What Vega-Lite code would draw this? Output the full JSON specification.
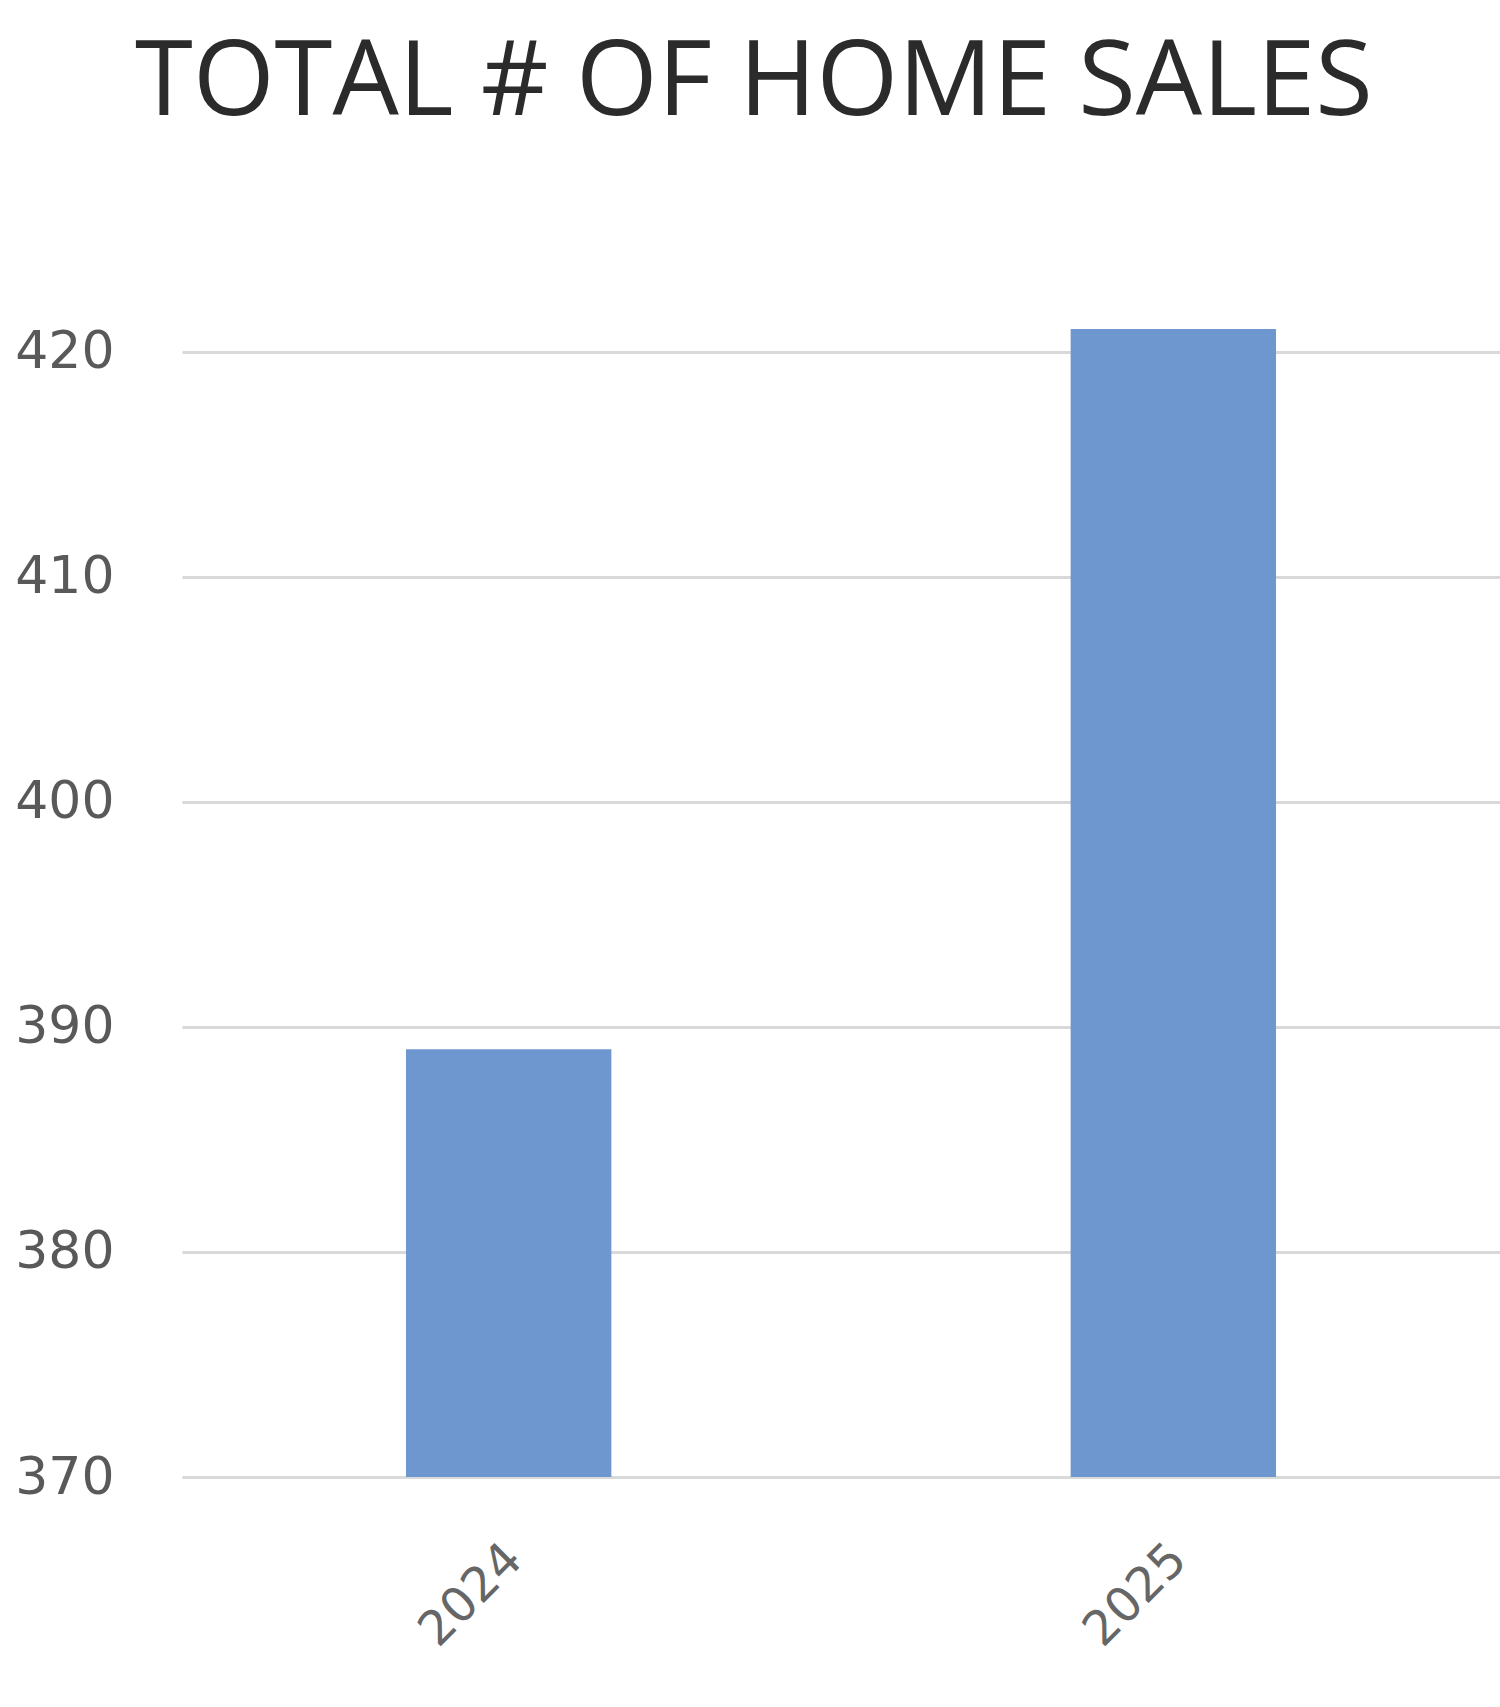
{
  "$schema": "https://vega.github.io/schema/vega-lite/v6.json",
  "autosize": {"type": "none"},
  "width": 1318,
  "height": 1238,
  "padding": {"left": 182, "top": 239, "right": 0, "bottom": 230},
  "background": "white",
  "title": {
    "text": "TOTAL # OF HOME SALES",
    "anchor": "middle",
    "frame": "group",
    "dx": -87,
    "offset": 19,
    "baseline": "alphabetic",
    "font": "Open Sans",
    "fontSize": 105,
    "fontWeight": "normal",
    "color": "#2b2b2b"
  },
  "data": {
    "values": [
      {"year": "2024", "sales": 389},
      {"year": "2025", "sales": 421}
    ]
  },
  "mark": {"type": "bar", "color": "#6f97cf"},
  "encoding": {
    "x": {
      "field": "year",
      "type": "nominal",
      "title": null,
      "scale": {"paddingInner": 0.691, "paddingOuter": 0.337},
      "axis": {
        "labelAngle": -45,
        "labelFont": "DejaVu Sans",
        "labelFontSize": 48,
        "labelColor": "#666666",
        "labelOffset": -11,
        "domain": false,
        "ticks": false,
        "labelPadding": 58,
        "grid": false
      }
    },
    "y": {
      "field": "sales",
      "type": "quantitative",
      "title": null,
      "scale": {"domain": [370, 425], "zero": false, "nice": false},
      "axis": {
        "values": [370, 380, 390, 400, 410, 420],
        "labelFont": "DejaVu Sans",
        "labelFontSize": 52,
        "labelColor": "#595959",
        "domain": false,
        "ticks": false,
        "labelPadding": 68,
        "gridColor": "#d9d9d9",
        "gridWidth": 3
      }
    },
    "y2": {"datum": 370}
  },
  "config": {"view": {"stroke": null}}
}
